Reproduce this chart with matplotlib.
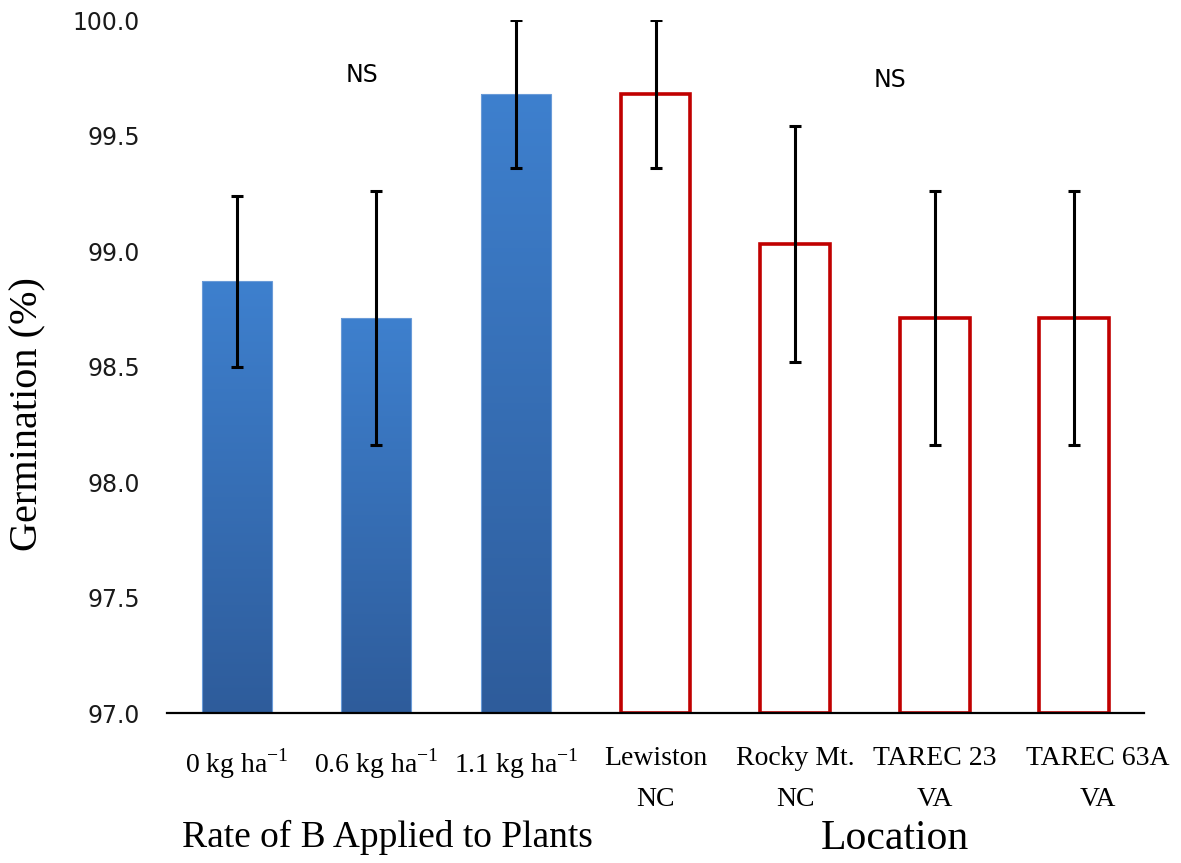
import numpy as np
import matplotlib
matplotlib.use("Agg")
import matplotlib.pyplot as plt
import matplotlib.transforms as mtransforms
from matplotlib.colors import LinearSegmentedColormap

plt.rcParams['mathtext.fontset'] = 'custom'
plt.rcParams['mathtext.rm'] = 'Liberation Serif'

# ---------------------------------------------------------------------------
# Data
# ---------------------------------------------------------------------------
rate_labels = ["0 kg ha$^{\\mathregular{-1}}$", "0.6 kg ha$^{\\mathregular{-1}}$",
               "1.1 kg ha$^{\\mathregular{-1}}$"]
rate_values = [98.87, 98.71, 99.68]
rate_errors = [0.37, 0.55, 0.32]

location_labels = ["Lewiston\nNC", "Rocky Mt.\nNC", "TAREC 23\nVA", "TAREC 63A\nVA"]
location_values = [99.68, 99.03, 98.71, 98.71]
location_errors = [0.32, 0.51, 0.55, 0.55]

y_ticks = [97.0, 97.5, 98.0, 98.5, 99.0, 99.5, 100.0]

SERIF = 'Liberation Serif'

fig = plt.figure(figsize=(11.81, 8.63), dpi=100)
ax = fig.add_axes([0.1414, 0.1738, 0.8273, 0.803])

x_rate = np.arange(len(rate_values))
x_loc = np.arange(len(location_values)) + len(rate_values)
base = y_ticks[0]

# Blue bars with a vertical gradient
rate_bars = ax.bar(x_rate, np.array(rate_values) - base, bottom=base, width=0.5,
                   color='none', edgecolor='none')
blue_cmap = LinearSegmentedColormap.from_list('blue_grad', ['#2E5C9B', '#3E80CE'])
grad = np.linspace(0, 1, 256).reshape(-1, 1)
for patch in rate_bars:
    x0, y0 = patch.get_x(), patch.get_y()
    w, h = patch.get_width(), patch.get_height()
    im = ax.imshow(grad, extent=(x0, x0 + w, y0, y0 + h), origin='lower',
                   cmap=blue_cmap, aspect='auto', zorder=2)
    im.set_clip_path(patch)
    ax.add_patch(plt.Rectangle((x0, y0), w, h, facecolor='none',
                               edgecolor='#6A9BD8', linewidth=0.8, zorder=2))

# Red outlined bars for locations
ax.bar(x_loc, np.array(location_values) - base, bottom=base, width=0.5,
       color='white', edgecolor='#C00000', linewidth=2.6, zorder=2)

ax.errorbar(np.concatenate([x_rate, x_loc]), rate_values + location_values,
            yerr=rate_errors + location_errors, fmt='none', ecolor='black',
            elinewidth=2.2, capsize=4.5, capthick=2.2, zorder=3)

ax.set_xlim(-0.5, 6.5)
ax.set_ylim(97.0, 100.0)
ax.set_yticks(y_ticks)
ax.set_yticklabels([f"{t:.1f}" for t in y_ticks], fontsize=17, color='#1a1a1a')
ax.set_xticks(np.concatenate([x_rate, x_loc]))
ax.set_xticklabels(rate_labels + location_labels, fontsize=20, family=SERIF,
                   linespacing=1.85, va='top')
ax.tick_params(axis='both', length=0)
ax.tick_params(axis='x', pad=24)
ax.tick_params(axis='y', pad=19.5)
for side in ['top', 'right', 'left']:
    ax.spines[side].set_visible(False)
ax.spines['bottom'].set_linewidth(1.6)

# the last label box sits a little right of its bar in the original
last = ax.get_xticklabels()[-1]
last.set_transform(last.get_transform() +
                   mtransforms.ScaledTranslation(24 / 100, 0, fig.dpi_scale_trans))

ax.text(0.9, 99.76, "NS", ha='center', va='center', fontsize=17)
ax.text(4.68, 99.74, "NS", ha='center', va='center', fontsize=17)

fig.text(0.024, 0.52, "Germination (%)", rotation=90, ha='center', va='center',
         family=SERIF, fontsize=29)
fig.text(0.328, 0.018, "Rate of B Applied to Plants", ha='center', va='baseline',
         family=SERIF, fontsize=27)
fig.text(0.758, 0.016, "Location", ha='center', va='baseline',
         family=SERIF, fontsize=30)

fig.savefig("out.png", dpi=100)
